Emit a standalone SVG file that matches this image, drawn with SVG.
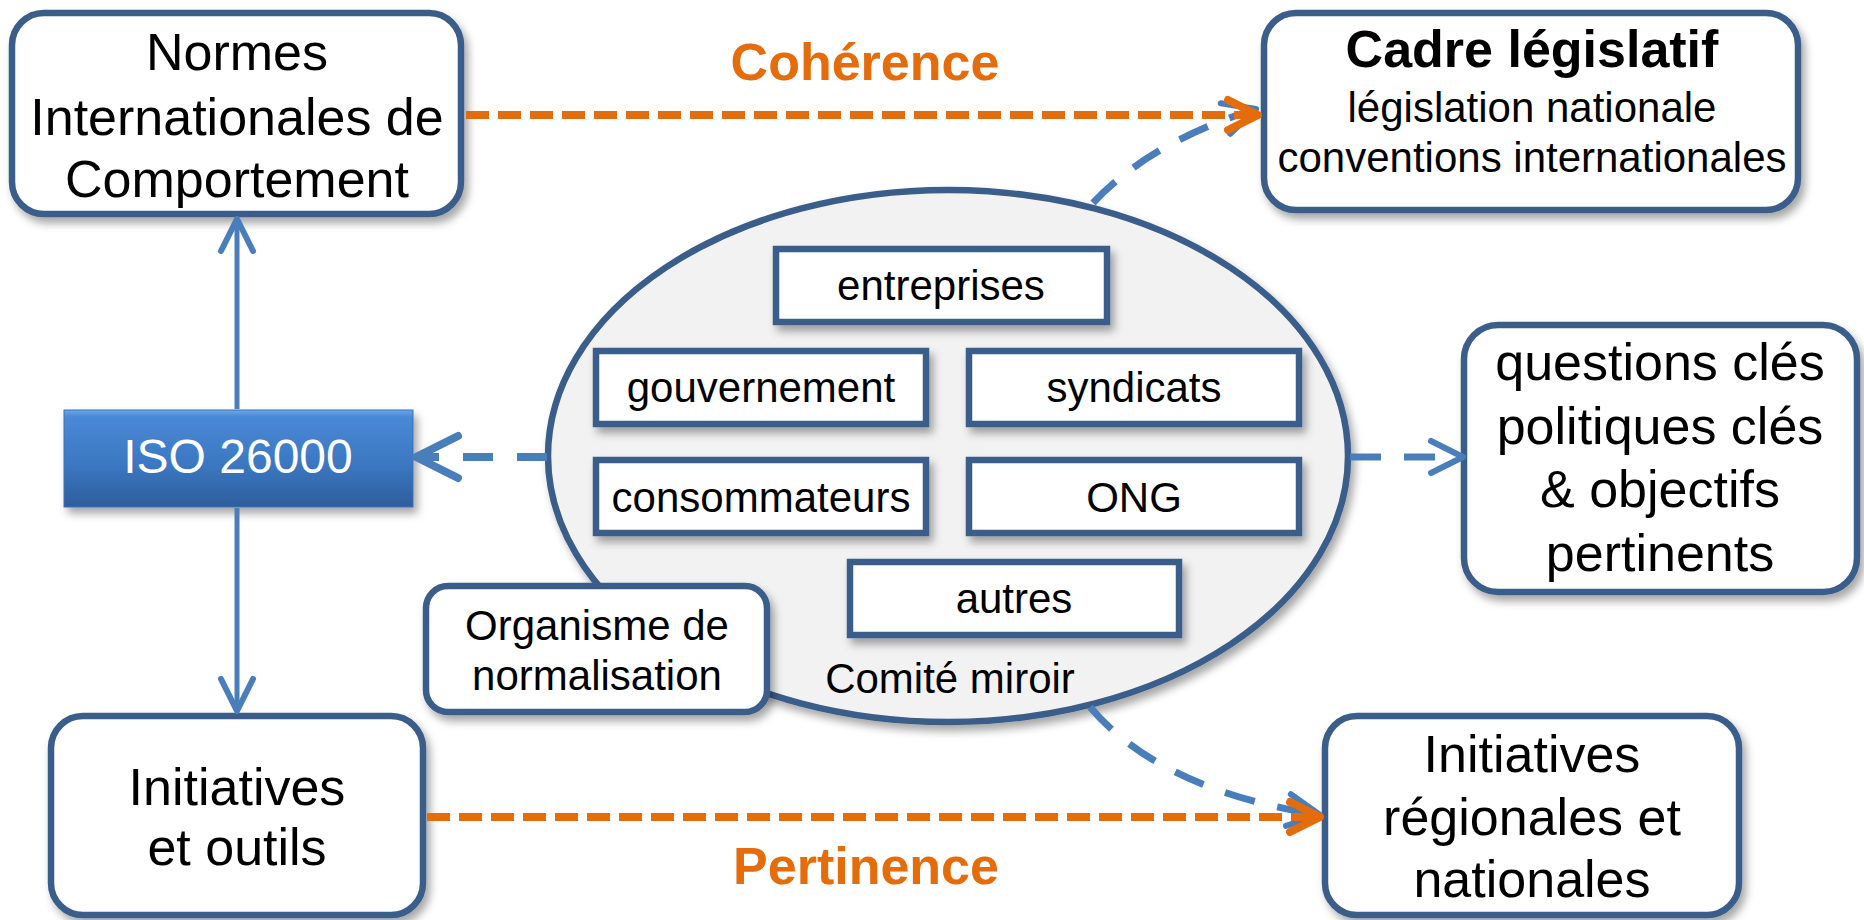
<svg xmlns="http://www.w3.org/2000/svg" width="1864" height="920" viewBox="0 0 1864 920">
<style>
text{font-family:"Liberation Sans",Arial,sans-serif;fill:#000;text-anchor:middle}
.big{font-size:52px}
.mid{font-size:42px}
.bold{font-weight:bold}
.orange{fill:#E46C0A}
.box{fill:#fff;stroke:#3A5D8A;stroke-width:6.5;filter:url(#sh)}
.oline{fill:none;stroke:#E46C0A;stroke-width:8;stroke-dasharray:23 9}
.bline{fill:none;stroke:#4A7EBB;stroke-width:7;stroke-dasharray:31 23}
.sline{fill:none;stroke:#4A7EBB;stroke-width:5}
</style>
<defs>
<filter id="sh" x="-10%" y="-10%" width="130%" height="140%">
<feDropShadow dx="4" dy="6" stdDeviation="4" flood-color="#000" flood-opacity="0.35"/>
</filter>
<linearGradient id="isoG" x1="0" y1="0" x2="0" y2="1">
<stop offset="0" stop-color="#6AA8EC"/>
<stop offset="0.07" stop-color="#4A89D6"/>
<stop offset="0.55" stop-color="#3C78C2"/>
<stop offset="1" stop-color="#2E5D9C"/>
</linearGradient>
<marker id="arB" markerUnits="userSpaceOnUse" orient="auto" overflow="visible" markerWidth="1" markerHeight="1">
<path d="M-32,-16 L0,0 L-32,16" fill="none" stroke="#4A7EBB" stroke-width="6" stroke-linecap="round" stroke-linejoin="round"/>
</marker>
<marker id="arBL" markerUnits="userSpaceOnUse" orient="auto" overflow="visible" markerWidth="1" markerHeight="1">
<path d="M-42,-21 L0,0 L-42,21" fill="none" stroke="#4A7EBB" stroke-width="8" stroke-linecap="round" stroke-linejoin="round"/>
</marker>
<marker id="arO" markerUnits="userSpaceOnUse" orient="auto" overflow="visible" markerWidth="1" markerHeight="1">
<path d="M-30,-15 L0,0 L-30,15" fill="none" stroke="#E46C0A" stroke-width="8" stroke-linecap="round" stroke-linejoin="round"/>
</marker>
</defs>
<rect width="1864" height="920" fill="#fff"/>

<g id="comite">
<ellipse cx="948" cy="456" rx="400" ry="266" fill="#F2F2F2" stroke="#3A5D8A" stroke-width="6.5" filter="url(#sh)"/>
<text class="mid" x="950" y="693">Comité miroir</text>
</g>
<g id="entreprises">
<rect class="box" x="776" y="249" width="331" height="73"/>
<text class="mid" x="941" y="300">entreprises</text>
</g>
<g id="gouvernement">
<rect class="box" x="596" y="351" width="330" height="73"/>
<text class="mid" x="761" y="402">gouvernement</text>
</g>
<g id="syndicats">
<rect class="box" x="969" y="351" width="330" height="73"/>
<text class="mid" x="1134" y="402">syndicats</text>
</g>
<g id="consommateurs">
<rect class="box" x="596" y="460" width="330" height="73"/>
<text class="mid" x="761" y="512">consommateurs</text>
</g>
<g id="ong">
<rect class="box" x="969" y="460" width="330" height="73"/>
<text class="mid" x="1134" y="512">ONG</text>
</g>
<g id="autres">
<rect class="box" x="850" y="562" width="329" height="73"/>
<text class="mid" x="1014" y="613">autres</text>
</g>
<g id="organisme">
<rect class="box" x="426" y="586" width="341" height="126" rx="22"/>
<text class="mid" x="597" y="640">Organisme de</text>
<text class="mid" x="597" y="690">normalisation</text>
</g>

<g id="normes">
<rect class="box" x="12" y="13" width="449" height="201" rx="32"/>
<text class="big" x="237" y="70">Normes</text>
<text class="big" x="237" y="135">Internationales de</text>
<text class="big" x="237" y="197">Comportement</text>
</g>
<g id="cadre">
<rect class="box" x="1264" y="13" width="534" height="197" rx="32"/>
<text class="big bold" x="1532" y="67">Cadre législatif</text>
<text class="mid" x="1532" y="122">législation nationale</text>
<text class="mid" x="1532" y="172">conventions internationales</text>
</g>
<g id="iso">
<rect x="64" y="410" width="349" height="97" fill="url(#isoG)" stroke="#3A72B8" stroke-width="1" filter="url(#sh)"/>
<text x="238" y="473" style="font-size:48px;fill:#fff">ISO 26000</text>
</g>
<g id="questions">
<rect class="box" x="1464" y="325" width="393" height="267" rx="34"/>
<text class="big" x="1660" y="380">questions clés</text>
<text class="big" x="1660" y="444">politiques clés</text>
<text class="big" x="1660" y="507">&amp; objectifs</text>
<text class="big" x="1660" y="571">pertinents</text>
</g>
<g id="initiatives">
<rect class="box" x="51" y="716" width="372" height="199" rx="32"/>
<text class="big" x="237" y="805">Initiatives</text>
<text class="big" x="237" y="865">et outils</text>
</g>
<g id="regionales">
<rect class="box" x="1325" y="716" width="414" height="199" rx="32"/>
<text class="big" x="1532" y="772">Initiatives</text>
<text class="big" x="1532" y="835">régionales et</text>
<text class="big" x="1532" y="897">nationales</text>
</g>

<g id="connectors">
<line class="sline" x1="237" y1="409" x2="237" y2="219" marker-end="url(#arB)"/>
<line class="sline" x1="237" y1="508" x2="237" y2="711" marker-end="url(#arB)"/>
<line class="bline" x1="547" y1="457" x2="416" y2="457" style="stroke-width:8;stroke-dasharray:30 24" marker-end="url(#arBL)"/>
<line class="bline" x1="1350" y1="457" x2="1463" y2="457" marker-end="url(#arB)"/>
<path class="bline" d="M1093,203 Q1150,142 1256,109" marker-end="url(#arB)"/>
<path class="bline" d="M1090,707 Q1160,790 1320,815" marker-end="url(#arB)"/>
<line class="oline" x1="466" y1="115" x2="1258" y2="115" marker-end="url(#arO)"/>
<line class="oline" x1="427" y1="817" x2="1320" y2="817" marker-end="url(#arO)"/>
<text class="big bold orange" x="865" y="80">Cohérence</text>
<text class="big bold orange" x="866" y="884">Pertinence</text>
</g>
</svg>
